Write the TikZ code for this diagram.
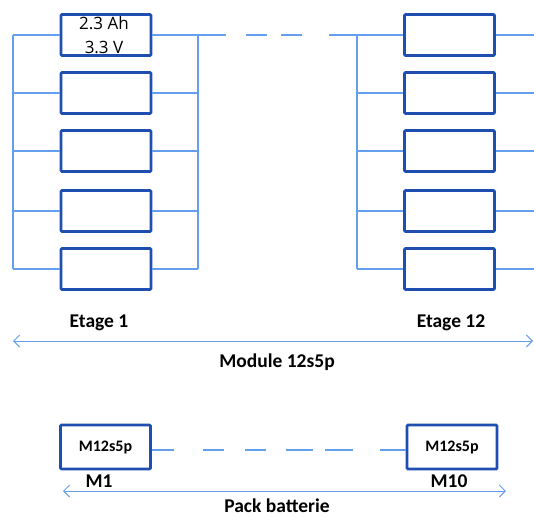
\documentclass[tikz,border=0pt]{standalone}
\usepackage{fontspec}
\setmainfont{Carlito}
\newfontfamily\cellfont{Open Sans}
\usetikzlibrary{arrows.meta}
\definecolor{boxblue}{RGB}{31,78,177}
\definecolor{wireblue}{RGB}{100,158,238}
\begin{document}
\begin{tikzpicture}[x=1pt,y=-1pt,
  cell/.style={draw=boxblue,line width=2.8pt,rounded corners=1pt,minimum width=90pt,minimum height=41pt,inner sep=0pt,fill=white},
  modbox/.style={draw=boxblue,line width=2.8pt,rounded corners=1pt,minimum width=90pt,minimum height=44pt,inner sep=0pt,fill=white,font=\fontsize{16}{18}\selectfont\bfseries},
  wire/.style={draw=wireblue,line width=1.2pt},
  dimarrow/.style={draw=wireblue,line width=1pt,{Straight Barb[length=6pt,width=12pt,line width=1pt]}-{Straight Barb[length=6pt,width=12pt,line width=1pt]}},
  lbl/.style={font=\fontsize{19.5}{22}\selectfont\bfseries,inner sep=0pt}
]
\useasboundingbox (0,0) rectangle (534,517);
% rows
\foreach \i/\y in {1/35,2/93,3/151,4/211,5/269}{
  \node[cell] (L\i) at (106,\y) {};
  \node[cell] (R\i) at (449.5,\y) {};
  \coordinate (la\i) at (13,\y);
  \coordinate (lb\i) at (198,\y);
  \coordinate (ra\i) at (357,\y);
  \coordinate (rb\i) at (534,\y);
}
\node[font=\cellfont\fontsize{17}{24}\selectfont,align=center,inner sep=0pt] (t1) at (104,35) {2.3 Ah\\3.3 V};
% buses
\draw[wire] (la1) -- (la5);
\draw[wire] (lb1) -- (lb5);
\draw[wire] (ra1) -- (ra5);
\foreach \i in {1,...,5}{
  \draw[wire] (la\i) -- (L\i.west);
  \draw[wire] (L\i.east) -- (lb\i);
  \draw[wire] (ra\i) -- (R\i.west);
  \draw[wire] (R\i.east) -- (rb\i);
}
% top series link
\coordinate (s1) at (226,35);
\coordinate (d1a) at (246,35); \coordinate (d1b) at (267,35);
\coordinate (d2a) at (281,35); \coordinate (d2b) at (302,35);
\coordinate (s2) at (329,35);
\draw[wire] (lb1) -- (s1);
\draw[wire] (d1a) -- (d1b);
\draw[wire] (d2a) -- (d2b);
\draw[wire] (s2) -- (ra1);
% labels
\node[lbl] (e1) at (99,323) {Etage 1};
\node[lbl] (e12) at (451,323) {Etage 12};
\coordinate (ma) at (13,341);
\coordinate (mb) at (533,341);
\draw[dimarrow] (ma) -- (mb);
\node[lbl] (mod) at (277,362) {Module 12s5p};
% pack
\node[modbox] (B1) at (105.5,447) {M12s5p};
\node[modbox] (B2) at (452,447) {M12s5p};
\coordinate (p1) at (174,450);
\coordinate (p2a) at (203,450); \coordinate (p2b) at (224,450);
\coordinate (p3a) at (245,450); \coordinate (p3b) at (266,450);
\coordinate (p4a) at (286,450); \coordinate (p4b) at (313,450);
\coordinate (p5a) at (325,450); \coordinate (p5b) at (353,450);
\coordinate (p6) at (380,450);
\draw[wire] (B1.east |- p1) -- (p1);
\draw[wire] (p2a) -- (p2b);
\draw[wire] (p3a) -- (p3b);
\draw[wire] (p4a) -- (p4b);
\draw[wire] (p5a) -- (p5b);
\draw[wire] (p6) -- (B2.west |- p6);
\node[lbl] (m1) at (99,481) {M1};
\node[lbl] (m10) at (449,481) {M10};
\coordinate (pa) at (63,491);
\coordinate (pb) at (506,491);
\draw[dimarrow] (pa) -- (pb);
\node[lbl] (pack) at (277,506) {Pack batterie};
\end{tikzpicture}
\end{document}
